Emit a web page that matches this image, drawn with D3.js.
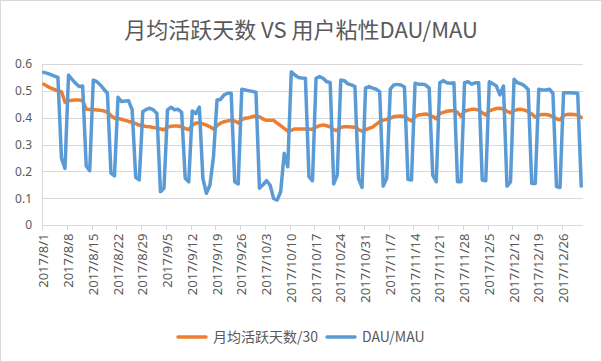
<!DOCTYPE html>
<html><head><meta charset="utf-8">
<script src="https://cdn.jsdelivr.net/npm/d3@7"></script>
<style>
html,body{margin:0;padding:0;background:#fff;}
svg{display:block;}
text{font-family:"Noto Sans","Noto Sans CJK SC",sans-serif;fill:#595959;}
</style></head>
<body>
<script>
// ---- data ----
const startDate = "2017-08-01";
const endDate = "2018-01-01"; // exclusive
const tickLabels = ["2017/8/1","2017/8/8","2017/8/15","2017/8/22","2017/8/29","2017/9/5","2017/9/12","2017/9/19","2017/9/26","2017/10/3","2017/10/10","2017/10/17","2017/10/24","2017/10/31","2017/11/7","2017/11/14","2017/11/21","2017/11/28","2017/12/5","2017/12/12","2017/12/19","2017/12/26"];
const yTicks = [0,0.1,0.2,0.3,0.4,0.5,0.6];
const seriesNames = ["月均活跃天数/30","DAU/MAU"];
const avgDays30 = [
0.525,0.517,0.510,0.505,0.500,0.497,0.458,
0.463,0.465,0.466,0.466,0.464,0.432,0.430,
0.430,0.429,0.428,0.425,0.420,0.408,0.398,
0.397,0.394,0.390,0.386,0.383,0.378,0.372,
0.370,0.367,0.366,0.363,0.361,0.358,0.355,
0.365,0.368,0.369,0.369,0.366,0.360,0.355,
0.372,0.380,0.380,0.377,0.372,0.366,0.358,
0.370,0.380,0.385,0.388,0.390,0.388,0.380,
0.393,0.398,0.400,0.404,0.406,0.403,0.395,
0.390,0.390,0.390,0.380,0.370,0.360,0.350,
0.353,0.358,0.358,0.358,0.358,0.358,0.356,
0.365,0.370,0.373,0.370,0.366,0.355,0.352,
0.364,0.366,0.366,0.365,0.364,0.356,0.350,
0.355,0.360,0.365,0.375,0.385,0.391,0.394,
0.398,0.404,0.405,0.406,0.404,0.395,0.388,
0.404,0.410,0.412,0.414,0.410,0.404,0.396,
0.415,0.420,0.424,0.426,0.426,0.420,0.405,
0.424,0.428,0.431,0.431,0.428,0.418,0.410,
0.425,0.430,0.434,0.435,0.432,0.424,0.418,
0.426,0.430,0.431,0.428,0.422,0.414,0.402,
0.410,0.412,0.412,0.409,0.404,0.396,0.392,
0.408,0.412,0.413,0.412,0.410,0.401];
const dauMau = [
0.569,0.565,0.560,0.555,0.550,0.249,0.211,
0.559,0.543,0.528,0.516,0.518,0.220,0.202,
0.540,0.534,0.522,0.506,0.491,0.193,0.183,
0.476,0.460,0.462,0.463,0.429,0.178,0.168,
0.422,0.431,0.435,0.429,0.416,0.124,0.137,
0.429,0.439,0.429,0.431,0.420,0.174,0.161,
0.425,0.415,0.439,0.174,0.118,0.149,0.255,
0.466,0.468,0.485,0.491,0.491,0.161,0.153,
0.506,0.503,0.500,0.498,0.495,0.137,0.150,
0.165,0.149,0.099,0.093,0.124,0.267,0.217,
0.571,0.559,0.550,0.548,0.547,0.180,0.165,
0.547,0.553,0.547,0.534,0.531,0.153,0.186,
0.540,0.538,0.526,0.522,0.516,0.174,0.140,
0.510,0.516,0.510,0.506,0.497,0.145,0.175,
0.506,0.522,0.524,0.522,0.514,0.170,0.168,
0.528,0.525,0.525,0.522,0.510,0.186,0.161,
0.530,0.538,0.530,0.528,0.530,0.161,0.161,
0.530,0.534,0.525,0.530,0.530,0.168,0.165,
0.534,0.526,0.518,0.485,0.518,0.145,0.161,
0.543,0.530,0.526,0.518,0.505,0.155,0.155,
0.506,0.503,0.503,0.506,0.491,0.143,0.140,
0.493,0.493,0.493,0.492,0.491,0.145];
const colors = ["#ED7D31","#5B9BD5"];

// ---- chart ----
const W = 602, H = 362;
const days = d3.timeDay.range(new Date(startDate+"T00:00:00"), new Date(endDate+"T00:00:00"));
const svg = d3.select("body").append("svg").attr("width", W).attr("height", H);
svg.append("rect").attr("x",0.5).attr("y",0.5).attr("width",W-1).attr("height",H-1)
  .attr("fill","#fff").attr("stroke","#D9D9D9");

const x = d3.scaleBand().domain(days.map((d,i)=>i)).range([42, 583]).padding(0);
const y = d3.scaleLinear().domain([0,0.6]).range([225, 64]);

// gridlines
svg.append("g").selectAll("line").data(yTicks).join("line")
  .attr("x1",42).attr("x2",583).attr("y1",d=>Math.round(y(d))+0.5).attr("y2",d=>Math.round(y(d))+0.5)
  .attr("stroke","#D9D9D9").attr("stroke-width",1);
// y axis
const yAxis = d3.axisLeft(y).tickValues(yTicks).tickFormat(d=>d===0?"0":d3.format(".1f")(d)).tickSize(0).tickPadding(10);
const gy = svg.append("g").attr("transform","translate(42,0)").call(yAxis);
gy.select(".domain").attr("stroke","#D9D9D9");
gy.selectAll("text").style("font-size","12px").attr("fill","#595959");

// x axis
const tickIdx = tickLabels.map((t,k)=>k*7);
const gx = svg.append("g").attr("transform","translate(0,225.5)");
gx.append("line").attr("x1",42).attr("x2",583).attr("stroke","#D9D9D9");
gx.selectAll("line.tk").data(tickIdx).join("line").attr("class","tk")
  .attr("x1",d=>Math.round(x(d))+0.5).attr("x2",d=>Math.round(x(d))+0.5).attr("y1",0).attr("y2",5)
  .attr("stroke","#D9D9D9");
gx.selectAll("text").data(tickLabels).join("text")
  .attr("transform",(t,k)=>`translate(${x(tickIdx[k])+x.bandwidth()/2},8) rotate(-90)`)
  .attr("text-anchor","end").attr("dy","0.35em")
  .style("font-size","13px").text(d=>d);

// lines
const line = d3.line().x((d,i)=>x(i)+x.bandwidth()/2).y(d=>y(d));
[avgDays30, dauMau].forEach((s,j)=>{
  svg.append("path").datum(s).attr("d",line).attr("fill","none")
    .attr("stroke",colors[j]).attr("stroke-width",3.5)
    .attr("stroke-linejoin","round").attr("stroke-linecap","round");
});

// title
svg.append("text").attr("x",301).attr("y",38).attr("text-anchor","middle")
  .style("font-family",'"Noto Sans CJK SC",sans-serif').style("font-size","22px")
  .text("月均活跃天数 VS 用户粘性DAU/MAU");

// legend
const legX = [178, 327];
seriesNames.forEach((n,j)=>{
  const g = svg.append("g").attr("transform",`translate(${legX[j]},337)`);
  g.append("line").attr("x1",0).attr("x2",28).attr("stroke",colors[j]).attr("stroke-width",3.5).attr("stroke-linecap","round");
  g.append("text").attr("x",35).attr("dy","0.35em")
    .style("font-family",'"Noto Sans CJK SC",sans-serif').style("font-size","14px").text(n);
});
</script>
</body></html>
